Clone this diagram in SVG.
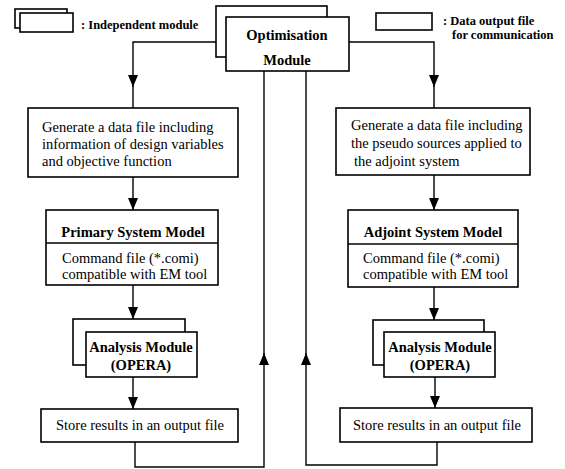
<svg xmlns="http://www.w3.org/2000/svg" width="565" height="469" viewBox="0 0 565 469" font-family="'Liberation Serif', 'Times New Roman', 'DejaVu Serif', serif">
<style>
.box{fill:#fff;stroke:#000;stroke-width:1.6}
.ln{fill:none;stroke:#000;stroke-width:1.4}
.t{font-size:14.5px;fill:#000}
.b{font-weight:bold}
.c{text-anchor:middle}
.lg{font-size:12.5px;font-weight:bold;fill:#000}
</style>
<defs>
<marker id="ah" markerUnits="userSpaceOnUse" markerWidth="12" markerHeight="10" viewBox="0 0 12 10" refX="12" refY="5" orient="auto">
<path d="M0,0 L12,5 L0,10 z" fill="#000"/>
</marker>
</defs>
<rect width="565" height="469" fill="#fff"/>

<g id="connectors">
<path class="ln" d="M216 42 H133 V87" marker-end="url(#ah)"/>
<line class="ln" x1="133" y1="86" x2="133" y2="108"/>
<path class="ln" d="M349 42 H434 V87" marker-end="url(#ah)"/>
<line class="ln" x1="434" y1="86" x2="434" y2="108"/>
<path class="ln" d="M133 177 V210" marker-end="url(#ah)"/>
<path class="ln" d="M133 285 V319" marker-end="url(#ah)"/>
<path class="ln" d="M133 377 V409" marker-end="url(#ah)"/>
<path class="ln" d="M434 175 V210" marker-end="url(#ah)"/>
<path class="ln" d="M434 287 V320" marker-end="url(#ah)"/>
<path class="ln" d="M435 377 V408" marker-end="url(#ah)"/>
<path class="ln" d="M135 442 V467 H264 V353" marker-end="url(#ah)"/>
<line class="ln" x1="264" y1="354" x2="264" y2="71"/>
<path class="ln" d="M437 442 V465 H306 V353" marker-end="url(#ah)"/>
<line class="ln" x1="306" y1="354" x2="306" y2="71"/>
</g>

<g id="legend-module">
<rect class="box" x="15" y="9" width="52" height="19"/>
<rect class="box" x="20" y="13" width="53" height="19"/>
<text class="lg" x="81" y="29">: Independent module</text>
</g>

<g id="legend-file">
<rect class="box" x="376" y="13" width="56" height="17"/>
<text class="lg" x="443" y="25">: Data output file</text>
<text class="lg" x="452" y="39">for communication</text>
</g>

<g id="optimisation">
<rect class="box" x="216" y="6" width="111" height="51"/>
<rect class="box" x="226" y="17" width="123" height="54"/>
<text class="t b c" x="287" y="40">Optimisation</text>
<text class="t b c" x="287" y="65">Module</text>
</g>

<g id="gen-left">
<rect class="box" x="28" y="108" width="210" height="69"/>
<text class="t" x="42" y="132">Generate a data file including</text>
<text class="t" x="42" y="149">information of design variables</text>
<text class="t" x="42" y="166">and objective function</text>
</g>

<g id="primary">
<rect class="box" x="46" y="210" width="172" height="75"/>
<line class="ln" x1="46" y1="243" x2="218" y2="243"/>
<text class="t b c" x="133" y="237">Primary System Model</text>
<text class="t" x="62" y="263">Command file (*.comi)</text>
<text class="t" x="62" y="279">compatible with EM tool</text>
</g>

<g id="analysis-left">
<rect class="box" x="73" y="319" width="112" height="46"/>
<rect class="box" x="86" y="332" width="111" height="45"/>
<text class="t b c" x="141" y="352">Analysis Module</text>
<text class="t b c" x="141" y="370">(OPERA)</text>
</g>

<g id="store-left">
<rect class="box" x="41" y="409" width="197" height="33"/>
<text class="t c" x="140" y="430">Store results in an output file</text>
</g>

<g id="gen-right">
<rect class="box" x="336" y="108" width="194" height="67"/>
<text class="t" x="351" y="130">Generate a data file including</text>
<text class="t" x="351" y="148">the pseudo sources applied to</text>
<text class="t" x="354" y="166">the adjoint system</text>
</g>

<g id="adjoint">
<rect class="box" x="348" y="210" width="170" height="77"/>
<line class="ln" x1="348" y1="244" x2="518" y2="244"/>
<text class="t b c" x="433" y="237">Adjoint System Model</text>
<text class="t" x="363" y="263">Command file (*.comi)</text>
<text class="t" x="363" y="279">compatible with EM tool</text>
</g>

<g id="analysis-right">
<rect class="box" x="373" y="320" width="111" height="45"/>
<rect class="box" x="384" y="332" width="111" height="45"/>
<text class="t b c" x="440" y="352">Analysis Module</text>
<text class="t b c" x="440" y="370">(OPERA)</text>
</g>

<g id="store-right">
<rect class="box" x="340" y="408" width="192" height="34"/>
<text class="t c" x="437" y="430">Store results in an output file</text>
</g>
</svg>
